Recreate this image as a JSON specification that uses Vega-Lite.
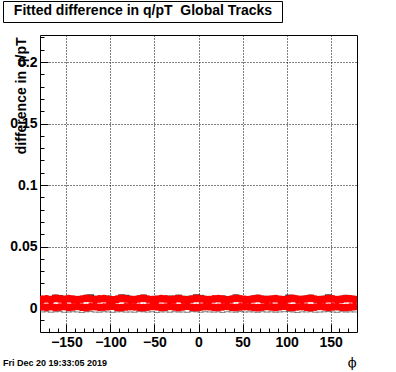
{
  "$schema": "https://vega.github.io/schema/vega-lite/v6.json",
  "autosize": {"type": "none"},
  "padding": {"left": 40, "top": 35, "right": 39, "bottom": 40},
  "width": 317,
  "height": 297,
  "background": "white",
  "config": {
    "view": {"stroke": "black", "strokeWidth": 1},
    "font": "Liberation Sans"
  },
  "data": {
    "values": [
      {"phi": -177.5, "a": 0.0070, "b": 0.0010, "k": 0.0092, "m": -0.0032},
      {"phi": -172.5, "a": 0.0075, "b": 0.0006, "k": 0.0088, "m": -0.0030},
      {"phi": -167.5, "a": 0.0068, "b": 0.0012, "k": 0.0090, "m": -0.0034},
      {"phi": -162.5, "a": 0.0078, "b": 0.0004, "k": 0.0101, "m": -0.0031},
      {"phi": -157.5, "a": 0.0074, "b": 0.0008, "k": 0.0098, "m": -0.0029},
      {"phi": -152.5, "a": 0.0070, "b": 0.0013, "k": 0.0086, "m": -0.0035},
      {"phi": -147.5, "a": 0.0076, "b": 0.0005, "k": 0.0093, "m": -0.0033},
      {"phi": -142.5, "a": 0.0072, "b": 0.0009, "k": 0.0087, "m": -0.0030},
      {"phi": -137.5, "a": 0.0067, "b": 0.0014, "k": 0.0091, "m": -0.0032},
      {"phi": -132.5, "a": 0.0073, "b": 0.0007, "k": 0.0089, "m": -0.0036},
      {"phi": -127.5, "a": 0.0079, "b": 0.0003, "k": 0.0099, "m": -0.0031},
      {"phi": -122.5, "a": 0.0075, "b": 0.0010, "k": 0.0104, "m": -0.0029},
      {"phi": -117.5, "a": 0.0069, "b": 0.0012, "k": 0.0092, "m": -0.0033},
      {"phi": -112.5, "a": 0.0074, "b": 0.0006, "k": 0.0088, "m": -0.0034},
      {"phi": -107.5, "a": 0.0077, "b": 0.0008, "k": 0.0090, "m": -0.0030},
      {"phi": -102.5, "a": 0.0071, "b": 0.0011, "k": 0.0094, "m": -0.0032},
      {"phi": -97.5, "a": 0.0066, "b": 0.0015, "k": 0.0086, "m": -0.0035},
      {"phi": -92.5, "a": 0.0072, "b": 0.0005, "k": 0.0089, "m": -0.0031},
      {"phi": -87.5, "a": 0.0078, "b": 0.0004, "k": 0.0103, "m": -0.0030},
      {"phi": -82.5, "a": 0.0074, "b": 0.0009, "k": 0.0100, "m": -0.0033},
      {"phi": -77.5, "a": 0.0070, "b": 0.0012, "k": 0.0091, "m": -0.0032},
      {"phi": -72.5, "a": 0.0068, "b": 0.0010, "k": 0.0087, "m": -0.0034},
      {"phi": -67.5, "a": 0.0075, "b": 0.0006, "k": 0.0093, "m": -0.0029},
      {"phi": -62.5, "a": 0.0079, "b": 0.0003, "k": 0.0102, "m": -0.0031},
      {"phi": -57.5, "a": 0.0073, "b": 0.0008, "k": 0.0090, "m": -0.0033},
      {"phi": -52.5, "a": 0.0069, "b": 0.0013, "k": 0.0088, "m": -0.0030},
      {"phi": -47.5, "a": 0.0071, "b": 0.0011, "k": 0.0092, "m": -0.0036},
      {"phi": -42.5, "a": 0.0076, "b": 0.0005, "k": 0.0086, "m": -0.0032},
      {"phi": -37.5, "a": 0.0074, "b": 0.0007, "k": 0.0089, "m": -0.0031},
      {"phi": -32.5, "a": 0.0068, "b": 0.0014, "k": 0.0094, "m": -0.0034},
      {"phi": -27.5, "a": 0.0072, "b": 0.0009, "k": 0.0090, "m": -0.0030},
      {"phi": -22.5, "a": 0.0077, "b": 0.0004, "k": 0.0101, "m": -0.0033},
      {"phi": -17.5, "a": 0.0070, "b": 0.0010, "k": 0.0087, "m": -0.0032},
      {"phi": -12.5, "a": 0.0066, "b": 0.0015, "k": 0.0091, "m": -0.0035},
      {"phi": -7.5, "a": 0.0073, "b": 0.0006, "k": 0.0093, "m": -0.0029},
      {"phi": -2.5, "a": 0.0078, "b": 0.0003, "k": 0.0104, "m": -0.0031},
      {"phi": 2.5, "a": 0.0075, "b": 0.0008, "k": 0.0099, "m": -0.0034},
      {"phi": 7.5, "a": 0.0071, "b": 0.0012, "k": 0.0088, "m": -0.0030},
      {"phi": 12.5, "a": 0.0069, "b": 0.0011, "k": 0.0090, "m": -0.0032},
      {"phi": 17.5, "a": 0.0074, "b": 0.0006, "k": 0.0086, "m": -0.0033},
      {"phi": 22.5, "a": 0.0077, "b": 0.0005, "k": 0.0092, "m": -0.0031},
      {"phi": 27.5, "a": 0.0072, "b": 0.0010, "k": 0.0094, "m": -0.0036},
      {"phi": 32.5, "a": 0.0067, "b": 0.0014, "k": 0.0089, "m": -0.0030},
      {"phi": 37.5, "a": 0.0073, "b": 0.0007, "k": 0.0087, "m": -0.0032},
      {"phi": 42.5, "a": 0.0079, "b": 0.0004, "k": 0.0103, "m": -0.0034},
      {"phi": 47.5, "a": 0.0075, "b": 0.0009, "k": 0.0091, "m": -0.0029},
      {"phi": 52.5, "a": 0.0070, "b": 0.0012, "k": 0.0088, "m": -0.0033},
      {"phi": 57.5, "a": 0.0068, "b": 0.0010, "k": 0.0090, "m": -0.0031},
      {"phi": 62.5, "a": 0.0074, "b": 0.0006, "k": 0.0093, "m": -0.0032},
      {"phi": 67.5, "a": 0.0078, "b": 0.0003, "k": 0.0100, "m": -0.0035},
      {"phi": 72.5, "a": 0.0072, "b": 0.0008, "k": 0.0086, "m": -0.0030},
      {"phi": 77.5, "a": 0.0069, "b": 0.0013, "k": 0.0092, "m": -0.0033},
      {"phi": 82.5, "a": 0.0073, "b": 0.0009, "k": 0.0089, "m": -0.0031},
      {"phi": 87.5, "a": 0.0076, "b": 0.0005, "k": 0.0094, "m": -0.0034},
      {"phi": 92.5, "a": 0.0071, "b": 0.0011, "k": 0.0087, "m": -0.0032},
      {"phi": 97.5, "a": 0.0067, "b": 0.0015, "k": 0.0091, "m": -0.0030},
      {"phi": 102.5, "a": 0.0074, "b": 0.0006, "k": 0.0102, "m": -0.0029},
      {"phi": 107.5, "a": 0.0078, "b": 0.0004, "k": 0.0098, "m": -0.0033},
      {"phi": 112.5, "a": 0.0072, "b": 0.0010, "k": 0.0088, "m": -0.0036},
      {"phi": 117.5, "a": 0.0070, "b": 0.0012, "k": 0.0090, "m": -0.0031},
      {"phi": 122.5, "a": 0.0075, "b": 0.0007, "k": 0.0093, "m": -0.0032},
      {"phi": 127.5, "a": 0.0079, "b": 0.0003, "k": 0.0101, "m": -0.0030},
      {"phi": 132.5, "a": 0.0073, "b": 0.0008, "k": 0.0089, "m": -0.0034},
      {"phi": 137.5, "a": 0.0068, "b": 0.0014, "k": 0.0086, "m": -0.0033},
      {"phi": 142.5, "a": 0.0071, "b": 0.0010, "k": 0.0092, "m": -0.0031},
      {"phi": 147.5, "a": 0.0076, "b": 0.0005, "k": 0.0104, "m": -0.0029},
      {"phi": 152.5, "a": 0.0074, "b": 0.0009, "k": 0.0090, "m": -0.0032},
      {"phi": 157.5, "a": 0.0069, "b": 0.0012, "k": 0.0087, "m": -0.0035},
      {"phi": 162.5, "a": 0.0072, "b": 0.0006, "k": 0.0091, "m": -0.0030},
      {"phi": 167.5, "a": 0.0077, "b": 0.0004, "k": 0.0099, "m": -0.0033},
      {"phi": 172.5, "a": 0.0075, "b": 0.0008, "k": 0.0093, "m": -0.0031},
      {"phi": 177.5, "a": 0.0070, "b": 0.0011, "k": 0.0088, "m": -0.0032}
    ]
  },
  "title": {"text": "Fri Dec 20 19:33:05 2019", "orient": "bottom", "anchor": "start", "frame": "group", "dx": -37, "offset": -10, "fontSize": 9, "font": "Liberation Sans", "fontWeight": "bold", "color": "black"},
  "encoding": {
    "x": {
      "field": "phi", "type": "quantitative",
      "scale": {"domain": [-180, 180], "nice": false, "zero": false},
      "axis": {
        "values": [-170, -160, -150, -140, -130, -120, -110, -100, -90, -80, -70, -60, -50, -40, -30, -20, -10, 0, 10, 20, 30, 40, 50, 60, 70, 80, 90, 100, 110, 120, 130, 140, 150, 160, 170],
        "labelExpr": "datum.value % 50 === 0 ? datum.label : ''",
        "domain": false,
        "tickColor": "black",
        "tickWidth": 1,
        "tickSize": {"condition": {"test": "datum.value % 50 === 0", "value": -8}, "value": -4},
        "grid": true,
        "gridColor": "black",
        "gridDash": [1, 2],
        "gridWidth": 1,
        "gridOpacity": {"condition": {"test": "datum.value % 50 === 0", "value": 1}, "value": 0},
        "labelFont": "Liberation Sans",
        "labelFontWeight": "bold",
        "labelFontSize": 14,
        "labelColor": "black",
        "labelPadding": 11,
        "labelFlush": false,
        "title": "ϕ",
        "titleFont": "DejaVu Serif",
        "titleFontWeight": "normal",
        "titleFontSize": 13,
        "titleColor": "black",
        "titleAlign": "right",
        "titleBaseline": "alphabetic",
        "titleX": 316,
        "titleY": 34
      }
    },
    "y": {
      "type": "quantitative",
      "scale": {"domain": [-0.0195, 0.222], "nice": false, "zero": false},
      "axis": {
        "values": [-0.01, 0, 0.01, 0.02, 0.03, 0.04, 0.05, 0.06, 0.07, 0.08, 0.09, 0.1, 0.11, 0.12, 0.13, 0.14, 0.15, 0.16, 0.17, 0.18, 0.19, 0.2, 0.21, 0.22],
        "labelExpr": "abs(datum.value*20 - round(datum.value*20)) < 0.000001 ? format(datum.value, '~g') : ''",
        "domain": false,
        "tickColor": "black",
        "tickWidth": 1,
        "tickSize": {"condition": {"test": "abs(datum.value*20 - round(datum.value*20)) < 0.000001", "value": -8}, "value": -4},
        "grid": true,
        "gridColor": "black",
        "gridDash": [1, 2],
        "gridWidth": 1,
        "gridOpacity": {"condition": {"test": "abs(datum.value*20 - round(datum.value*20)) < 0.000001", "value": 1}, "value": 0},
        "labelFont": "Liberation Sans",
        "labelFontWeight": "bold",
        "labelFontSize": 14,
        "labelColor": "black",
        "labelPadding": 11,
        "labelFlush": false,
        "title": "difference in q/pT",
        "titleFont": "Liberation Sans",
        "titleFontWeight": "bold",
        "titleFontSize": 14,
        "titleColor": "black",
        "titleAngle": -90,
        "titleAlign": "right",
        "titleBaseline": "alphabetic",
        "titleX": -15,
        "titleY": 2
      }
    }
  },
  "layer": [
    {
      "mark": {"type": "tick", "orient": "horizontal", "color": "#555555", "thickness": 1, "size": 6, "clip": true},
      "encoding": {"y": {"field": "m", "type": "quantitative"}}
    },
    {
      "mark": {"type": "tick", "orient": "horizontal", "color": "black", "thickness": 2, "size": 7, "clip": true},
      "encoding": {"y": {"field": "k", "type": "quantitative"}}
    },
    {
      "mark": {"type": "point", "shape": "circle", "filled": true, "size": 60, "opacity": 1, "clip": true},
      "encoding": {
        "y": {"field": "a", "type": "quantitative"},
        "color": {
          "datum": "fit",
          "type": "nominal",
          "scale": {"range": ["#ff0000"]},
          "legend": {
            "orient": "none",
            "legendX": -37,
            "legendY": -34,
            "title": "Fitted difference in q/pT \u00a0Global Tracks",
            "titleFont": "Liberation Sans",
            "titleFontWeight": "bold",
            "titleFontSize": 14,
            "titleColor": "black",
            "titlePadding": 0,
            "titleAnchor": "middle",
            "titleLimit": 400,
            "strokeColor": "black",
            "fillColor": "white",
            "padding": 3,
            "symbolSize": 0,
            "symbolOpacity": 0,
            "symbolStrokeWidth": 0,
            "labelExpr": "''",
            "labelFontSize": 1,
            "labelOffset": 272,
            "rowPadding": 0
          }
        }
      }
    },
    {
      "mark": {"type": "point", "shape": "circle", "filled": true, "size": 60, "opacity": 1, "clip": true},
      "encoding": {
        "y": {"field": "b", "type": "quantitative"},
        "color": {"datum": "fit", "type": "nominal"}
      }
    }
  ]
}
